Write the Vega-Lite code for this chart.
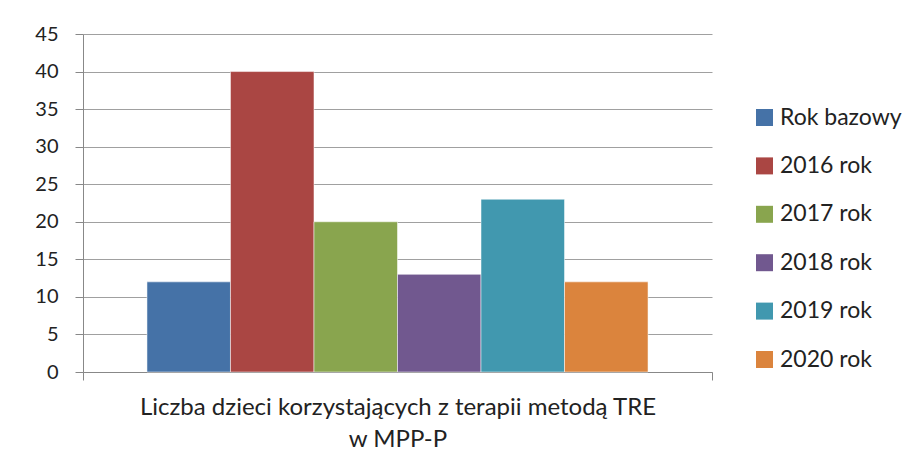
{
  "$schema": "https://vega.github.io/schema/vega-lite/v6.json",
  "width": 629,
  "height": 338,
  "autosize": {"type": "none"},
  "padding": {"left": 83, "top": 34, "right": 202, "bottom": 97},
  "background": "white",
  "config": {
    "view": {"stroke": null},
    "font": "Lato"
  },
  "data": {
    "values": [
      {"kategoria": "Liczba dzieci korzystających z terapii metodą TRE|w MPP-P", "seria": "Rok bazowy", "wartosc": 12},
      {"kategoria": "Liczba dzieci korzystających z terapii metodą TRE|w MPP-P", "seria": "2016 rok", "wartosc": 40},
      {"kategoria": "Liczba dzieci korzystających z terapii metodą TRE|w MPP-P", "seria": "2017 rok", "wartosc": 20},
      {"kategoria": "Liczba dzieci korzystających z terapii metodą TRE|w MPP-P", "seria": "2018 rok", "wartosc": 13},
      {"kategoria": "Liczba dzieci korzystających z terapii metodą TRE|w MPP-P", "seria": "2019 rok", "wartosc": 23},
      {"kategoria": "Liczba dzieci korzystających z terapii metodą TRE|w MPP-P", "seria": "2020 rok", "wartosc": 12}
    ]
  },
  "mark": {"type": "bar", "stroke": "#ffffff", "strokeOpacity": 0.5, "strokeWidth": 1},
  "encoding": {
    "x": {
      "field": "kategoria",
      "type": "nominal",
      "scale": {"paddingInner": 0, "paddingOuter": 0},
      "axis": {
        "title": null,
        "labelAngle": 0,
        "labelExpr": "split(datum.label, '|')",
        "labelFontSize": 24,
        "labelColor": "#222222",
        "labelPadding": 15,
        "labelLineHeight": 32,
        "tickBand": "extent",
        "tickSize": 8,
        "tickColor": "#888888",
        "domainColor": "#888888",
        "labelLimit": 800
      }
    },
    "xOffset": {
      "field": "seria",
      "type": "nominal",
      "sort": ["Rok bazowy", "2016 rok", "2017 rok", "2018 rok", "2019 rok", "2020 rok"],
      "scale": {"paddingInner": 0, "paddingOuter": 0.766}
    },
    "y": {
      "field": "wartosc",
      "type": "quantitative",
      "scale": {"domain": [0, 45], "nice": false},
      "axis": {
        "title": null,
        "values": [0, 5, 10, 15, 20, 25, 30, 35, 40, 45],
        "labelFontSize": 20,
        "labelColor": "#222222",
        "labelPadding": 17,
        "tickSize": 8,
        "tickColor": "#888888",
        "domainColor": "#888888",
        "gridColor": "#a0a0a0",
        "gridOpacity": 1
      }
    },
    "color": {
      "field": "seria",
      "type": "nominal",
      "sort": ["Rok bazowy", "2016 rok", "2017 rok", "2018 rok", "2019 rok", "2020 rok"],
      "scale": {
        "domain": ["Rok bazowy", "2016 rok", "2017 rok", "2018 rok", "2019 rok", "2020 rok"],
        "range": ["#4572A7", "#AA4643", "#89A54E", "#71588F", "#4198AF", "#DB843D"]
      },
      "legend": {
        "title": null,
        "orient": "none",
        "legendX": 670,
        "legendY": 72,
        "symbolType": "square",
        "symbolSize": 289,
        "symbolStrokeWidth": 0,
        "labelFontSize": 23,
        "labelColor": "#222222",
        "labelOffset": 4,
        "rowPadding": 24.4,
        "labelLimit": 200
      }
    }
  }
}
